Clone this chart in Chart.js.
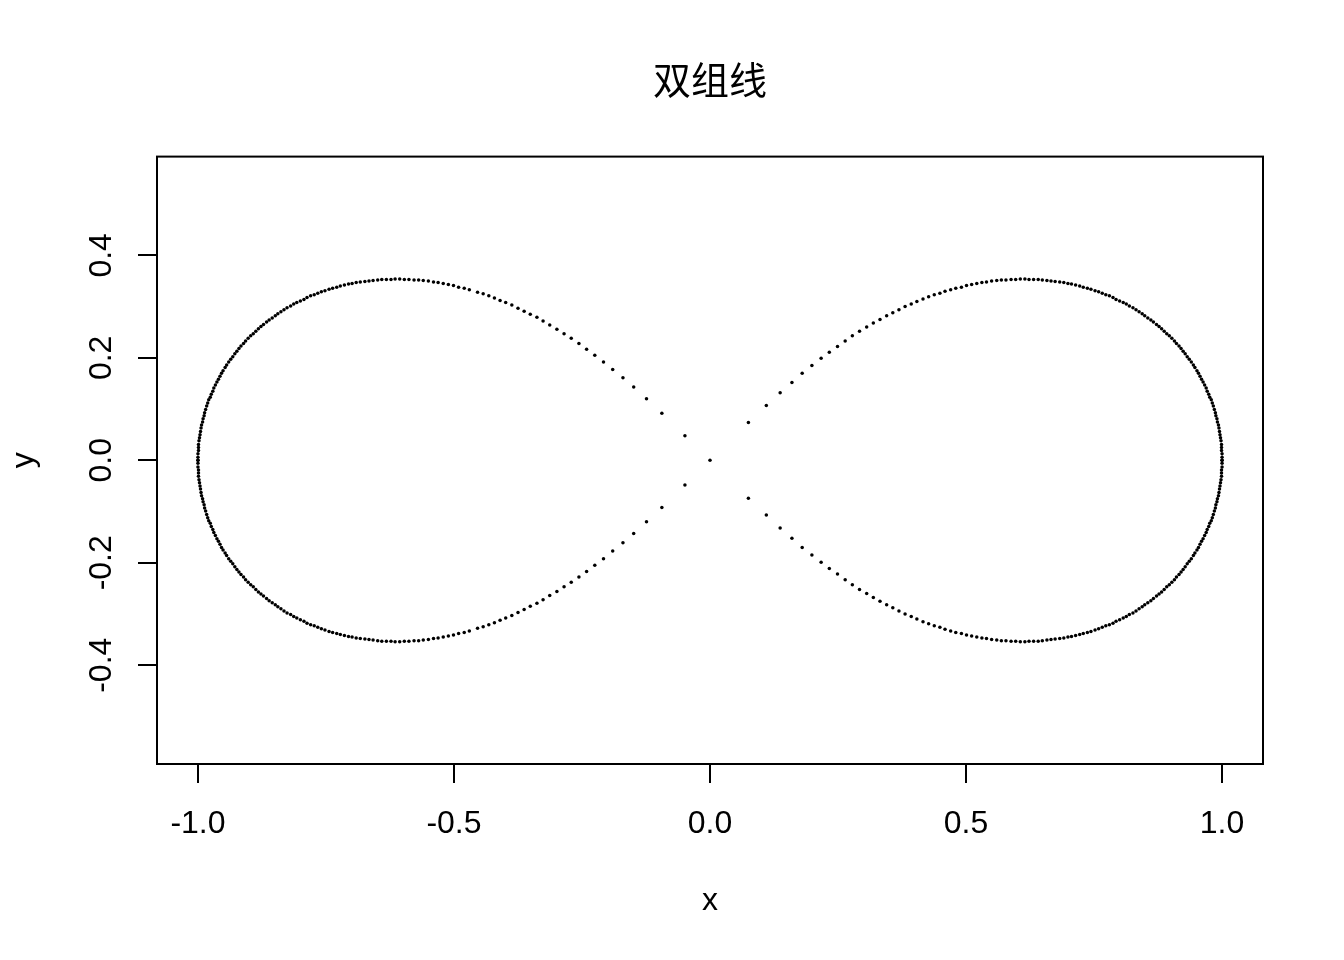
<!DOCTYPE html>
<html>
<head>
<meta charset="utf-8">
<script src="https://cdn.jsdelivr.net/npm/chart.js@4/dist/chart.umd.min.js"></script>
<style>
html,body{margin:0;padding:0;background:#ffffff;}
canvas{display:block;}
</style>
</head>
<body>
<canvas id="c" width="1344" height="960" style="width:1344px;height:960px"></canvas>
<script>
const chartTitle = "双组线";
const xAxisLabel = "x";
const yAxisLabel = "y";
const xTickValues = [-1, -0.5, 0, 0.5, 1];
const xTickLabels = ["-1.0", "-0.5", "0.0", "0.5", "1.0"];
const yTickValues = [-0.4, -0.2, 0, 0.2, 0.4];
const yTickLabels = ["-0.4", "-0.2", "0.0", "0.2", "0.4"];
const xRange = [-1.08, 1.08];
const yRange = [-0.5928, 0.5928];

// right lobe, upper half
const rightUpperX = [1.000,1.000,1.000,0.999,0.999,0.999,0.998,0.997,0.996,0.995,
0.994,0.993,0.991,0.990,0.988,0.987,0.985,0.983,0.981,0.979,
0.976,0.974,0.971,0.969,0.966,0.963,0.960,0.957,0.954,0.951,
0.947,0.944,0.940,0.936,0.932,0.928,0.924,0.920,0.916,0.911,
0.907,0.902,0.897,0.892,0.887,0.882,0.877,0.872,0.866,0.861,
0.855,0.849,0.844,0.838,0.832,0.826,0.819,0.813,0.807,0.800,
0.793,0.787,0.780,0.773,0.766,0.759,0.752,0.744,0.737,0.729,
0.722,0.714,0.706,0.699,0.691,0.683,0.674,0.666,0.658,0.649,
0.641,0.632,0.623,0.615,0.606,0.597,0.588,0.578,0.569,0.560,
0.550,0.540,0.531,0.521,0.511,0.501,0.491,0.480,0.470,0.459,
0.449,0.438,0.427,0.416,0.404,0.393,0.381,0.369,0.357,0.345,
0.332,0.319,0.306,0.292,0.278,0.264,0.249,0.233,0.217,0.199,
0.180,0.160,0.137,0.110,0.075];
const rightUpperY = [0.000,0.006,0.013,0.019,0.025,0.031,0.038,0.044,0.050,0.056,
0.063,0.069,0.075,0.081,0.087,0.093,0.099,0.106,0.112,0.118,
0.123,0.129,0.135,0.141,0.147,0.153,0.158,0.164,0.170,0.175,
0.181,0.186,0.192,0.197,0.202,0.208,0.213,0.218,0.223,0.228,
0.233,0.238,0.243,0.247,0.252,0.257,0.261,0.265,0.270,0.274,
0.278,0.282,0.286,0.290,0.294,0.298,0.301,0.305,0.308,0.311,
0.314,0.318,0.321,0.323,0.326,0.329,0.331,0.334,0.336,0.338,
0.340,0.342,0.344,0.345,0.347,0.348,0.349,0.350,0.351,0.352,
0.353,0.353,0.353,0.354,0.354,0.353,0.353,0.352,0.352,0.351,
0.350,0.348,0.347,0.345,0.343,0.341,0.338,0.336,0.333,0.330,
0.326,0.323,0.319,0.315,0.310,0.305,0.300,0.294,0.288,0.282,
0.275,0.268,0.260,0.252,0.243,0.233,0.222,0.211,0.199,0.185,
0.170,0.152,0.132,0.107,0.074];

// right lobe, lower half
const rightLowerX = [1.000,1.000,1.000,0.999,0.999,0.999,0.998,0.997,0.996,0.995,
0.994,0.993,0.991,0.990,0.988,0.987,0.985,0.983,0.981,0.979,
0.976,0.974,0.971,0.969,0.966,0.963,0.960,0.957,0.954,0.951,
0.947,0.944,0.940,0.936,0.932,0.928,0.924,0.920,0.916,0.911,
0.907,0.902,0.897,0.892,0.887,0.882,0.877,0.872,0.866,0.861,
0.855,0.849,0.844,0.838,0.832,0.826,0.819,0.813,0.807,0.800,
0.793,0.787,0.780,0.773,0.766,0.759,0.752,0.744,0.737,0.729,
0.722,0.714,0.706,0.699,0.691,0.683,0.674,0.666,0.658,0.649,
0.641,0.632,0.623,0.615,0.606,0.597,0.588,0.578,0.569,0.560,
0.550,0.540,0.531,0.521,0.511,0.501,0.491,0.480,0.470,0.459,
0.449,0.438,0.427,0.416,0.404,0.393,0.381,0.369,0.357,0.345,
0.332,0.319,0.306,0.292,0.278,0.264,0.249,0.233,0.217,0.199,
0.180,0.160,0.137,0.110,0.075];
const rightLowerY = [0.000,-0.006,-0.013,-0.019,-0.025,-0.031,-0.038,-0.044,-0.050,-0.056,
-0.063,-0.069,-0.075,-0.081,-0.087,-0.093,-0.099,-0.106,-0.112,-0.118,
-0.123,-0.129,-0.135,-0.141,-0.147,-0.153,-0.158,-0.164,-0.170,-0.175,
-0.181,-0.186,-0.192,-0.197,-0.202,-0.208,-0.213,-0.218,-0.223,-0.228,
-0.233,-0.238,-0.243,-0.247,-0.252,-0.257,-0.261,-0.265,-0.270,-0.274,
-0.278,-0.282,-0.286,-0.290,-0.294,-0.298,-0.301,-0.305,-0.308,-0.311,
-0.314,-0.318,-0.321,-0.323,-0.326,-0.329,-0.331,-0.334,-0.336,-0.338,
-0.340,-0.342,-0.344,-0.345,-0.347,-0.348,-0.349,-0.350,-0.351,-0.352,
-0.353,-0.353,-0.353,-0.354,-0.354,-0.353,-0.353,-0.352,-0.352,-0.351,
-0.350,-0.348,-0.347,-0.345,-0.343,-0.341,-0.338,-0.336,-0.333,-0.330,
-0.326,-0.323,-0.319,-0.315,-0.310,-0.305,-0.300,-0.294,-0.288,-0.282,
-0.275,-0.268,-0.260,-0.252,-0.243,-0.233,-0.222,-0.211,-0.199,-0.185,
-0.170,-0.152,-0.132,-0.107,-0.074];

// left lobe, upper half
const leftUpperX = [-0.049,-0.094,-0.124,-0.149,-0.170,-0.190,-0.208,-0.225,-0.241,-0.256,
-0.271,-0.285,-0.299,-0.313,-0.326,-0.338,-0.351,-0.363,-0.375,-0.387,
-0.399,-0.410,-0.421,-0.432,-0.443,-0.454,
-1.000,-1.000,-1.000,-0.999,-0.999,-0.999,-0.998,-0.997,-0.996,-0.995,
-0.994,-0.993,-0.991,-0.990,-0.988,-0.987,-0.985,-0.983,-0.981,-0.979,
-0.976,-0.974,-0.971,-0.969,-0.966,-0.963,-0.960,-0.957,-0.954,-0.951,
-0.947,-0.944,-0.940,-0.936,-0.932,-0.928,-0.924,-0.920,-0.916,-0.911,
-0.907,-0.902,-0.897,-0.892,-0.887,-0.882,-0.877,-0.872,-0.866,-0.861,
-0.855,-0.849,-0.844,-0.838,-0.832,-0.826,-0.819,-0.813,-0.807,-0.800,
-0.793,-0.787,-0.780,-0.773,-0.766,-0.759,-0.752,-0.744,-0.737,-0.729,
-0.722,-0.714,-0.706,-0.699,-0.691,-0.683,-0.674,-0.666,-0.658,-0.649,
-0.641,-0.632,-0.623,-0.615,-0.606,-0.597,-0.588,-0.578,-0.569,-0.560,
-0.550,-0.540,-0.531,-0.521,-0.511,-0.501,-0.491,-0.480,-0.470];
const leftUpperY = [0.048,0.092,0.120,0.143,0.161,0.177,0.192,0.205,0.217,0.228,
0.238,0.247,0.256,0.264,0.272,0.279,0.285,0.291,0.297,0.303,
0.308,0.312,0.317,0.321,0.325,0.328,
0.000,0.006,0.013,0.019,0.025,0.031,0.038,0.044,0.050,0.056,
0.063,0.069,0.075,0.081,0.087,0.093,0.099,0.106,0.112,0.118,
0.123,0.129,0.135,0.141,0.147,0.153,0.158,0.164,0.170,0.175,
0.181,0.186,0.192,0.197,0.202,0.208,0.213,0.218,0.223,0.228,
0.233,0.238,0.243,0.247,0.252,0.257,0.261,0.265,0.270,0.274,
0.278,0.282,0.286,0.290,0.294,0.298,0.301,0.305,0.308,0.311,
0.314,0.318,0.321,0.323,0.326,0.329,0.331,0.334,0.336,0.338,
0.340,0.342,0.344,0.345,0.347,0.348,0.349,0.350,0.351,0.352,
0.353,0.353,0.353,0.354,0.354,0.353,0.353,0.352,0.352,0.351,
0.350,0.348,0.347,0.345,0.343,0.341,0.338,0.336,0.333];

// left lobe, lower half
const leftLowerX = [-0.049,-0.094,-0.124,-0.149,-0.170,-0.190,-0.208,-0.225,-0.241,-0.256,
-0.271,-0.285,-0.299,-0.313,-0.326,-0.338,-0.351,-0.363,-0.375,-0.387,
-0.399,-0.410,-0.421,-0.432,-0.443,-0.454,
-1.000,-1.000,-1.000,-0.999,-0.999,-0.999,-0.998,-0.997,-0.996,-0.995,
-0.994,-0.993,-0.991,-0.990,-0.988,-0.987,-0.985,-0.983,-0.981,-0.979,
-0.976,-0.974,-0.971,-0.969,-0.966,-0.963,-0.960,-0.957,-0.954,-0.951,
-0.947,-0.944,-0.940,-0.936,-0.932,-0.928,-0.924,-0.920,-0.916,-0.911,
-0.907,-0.902,-0.897,-0.892,-0.887,-0.882,-0.877,-0.872,-0.866,-0.861,
-0.855,-0.849,-0.844,-0.838,-0.832,-0.826,-0.819,-0.813,-0.807,-0.800,
-0.793,-0.787,-0.780,-0.773,-0.766,-0.759,-0.752,-0.744,-0.737,-0.729,
-0.722,-0.714,-0.706,-0.699,-0.691,-0.683,-0.674,-0.666,-0.658,-0.649,
-0.641,-0.632,-0.623,-0.615,-0.606,-0.597,-0.588,-0.578,-0.569,-0.560,
-0.550,-0.540,-0.531,-0.521,-0.511,-0.501,-0.491,-0.480,-0.470];
const leftLowerY = [-0.048,-0.092,-0.120,-0.143,-0.161,-0.177,-0.192,-0.205,-0.217,-0.228,
-0.238,-0.247,-0.256,-0.264,-0.272,-0.279,-0.285,-0.291,-0.297,-0.303,
-0.308,-0.312,-0.317,-0.321,-0.325,-0.328,
0.000,-0.006,-0.013,-0.019,-0.025,-0.031,-0.038,-0.044,-0.050,-0.056,
-0.063,-0.069,-0.075,-0.081,-0.087,-0.093,-0.099,-0.106,-0.112,-0.118,
-0.123,-0.129,-0.135,-0.141,-0.147,-0.153,-0.158,-0.164,-0.170,-0.175,
-0.181,-0.186,-0.192,-0.197,-0.202,-0.208,-0.213,-0.218,-0.223,-0.228,
-0.233,-0.238,-0.243,-0.247,-0.252,-0.257,-0.261,-0.265,-0.270,-0.274,
-0.278,-0.282,-0.286,-0.290,-0.294,-0.298,-0.301,-0.305,-0.308,-0.311,
-0.314,-0.318,-0.321,-0.323,-0.326,-0.329,-0.331,-0.334,-0.336,-0.338,
-0.340,-0.342,-0.344,-0.345,-0.347,-0.348,-0.349,-0.350,-0.351,-0.352,
-0.353,-0.353,-0.353,-0.354,-0.354,-0.353,-0.353,-0.352,-0.352,-0.351,
-0.350,-0.348,-0.347,-0.345,-0.343,-0.341,-0.338,-0.336,-0.333];

// crossing point
const centerX = [0];
const centerY = [0];

function toPoints(xs, ys) {
  return xs.map(function (x, i) { return { x: x, y: ys[i] }; });
}

const tickFont = { family: "'Liberation Sans', Arial, sans-serif", size: 32, weight: 'normal' };

const boxPlugin = {
  id: 'plotBox',
  afterDraw: function (chart) {
    const a = chart.chartArea;
    const ctx = chart.ctx;
    ctx.save();
    ctx.strokeStyle = '#000000';
    ctx.lineWidth = 2;
    ctx.strokeRect(a.left, a.top, a.right - a.left, a.bottom - a.top);
    ctx.restore();
  }
};

const dotStyle = { pointRadius: 1.75, pointHoverRadius: 1.75, pointBackgroundColor: '#000000', pointBorderWidth: 0, showLine: false };

new Chart(document.getElementById('c'), {
  type: 'scatter',
  data: {
    datasets: [
      Object.assign({ label: 'rightUpper', data: toPoints(rightUpperX, rightUpperY) }, dotStyle),
      Object.assign({ label: 'rightLower', data: toPoints(rightLowerX, rightLowerY) }, dotStyle),
      Object.assign({ label: 'leftUpper', data: toPoints(leftUpperX, leftUpperY) }, dotStyle),
      Object.assign({ label: 'leftLower', data: toPoints(leftLowerX, leftLowerY) }, dotStyle),
      Object.assign({ label: 'center', data: toPoints(centerX, centerY) }, dotStyle)
    ]
  },
  options: {
    responsive: false,
    devicePixelRatio: 1,
    animation: false,
    events: [],
    layout: { padding: { left: 0, right: 81, top: 0, bottom: 0 }, autoPadding: false },
    plugins: {
      legend: { display: false },
      tooltip: { enabled: false },
      title: {
        display: true,
        text: chartTitle,
        fullSize: false,
        color: '#000000',
        font: { family: "'Noto Sans CJK SC', sans-serif", size: 38, weight: 'normal', lineHeight: 1.2 },
        padding: { top: 57, bottom: 54 }
      }
    },
    scales: {
      x: {
        type: 'linear',
        min: xRange[0],
        max: xRange[1],
        afterBuildTicks: function (s) { s.ticks = xTickValues.map(function (v) { return { value: v }; }); },
        afterFit: function (s) { s.height = 196; },
        ticks: {
          callback: function (v, i) { return xTickLabels[i]; },
          color: '#000000',
          font: tickFont,
          padding: 22,
          maxRotation: 0,
          minRotation: 0,
          autoSkip: false
        },
        grid: { drawOnChartArea: false, drawTicks: true, tickLength: 19, color: '#000000', lineWidth: 2 },
        border: { display: false },
        title: { display: true, text: xAxisLabel, color: '#000000', font: tickFont, padding: { top: 0, bottom: 40 } }
      },
      y: {
        type: 'linear',
        min: yRange[0],
        max: yRange[1],
        afterBuildTicks: function (s) { s.ticks = yTickValues.map(function (v) { return { value: v }; }); },
        afterFit: function (s) { s.width = 157; },
        ticks: {
          callback: function (v, i) { return yTickLabels[i]; },
          color: '#000000',
          font: tickFont,
          padding: 8,
          minRotation: 90,
          maxRotation: 90,
          crossAlign: 'center',
          autoSkip: false
        },
        grid: { drawOnChartArea: false, drawTicks: true, tickLength: 19, color: '#000000', lineWidth: 2 },
        border: { display: false },
        title: { display: true, text: yAxisLabel, color: '#000000', font: tickFont, padding: { top: 5, bottom: 0 } }
      }
    }
  },
  plugins: [boxPlugin]
});
</script>
</body>
</html>
